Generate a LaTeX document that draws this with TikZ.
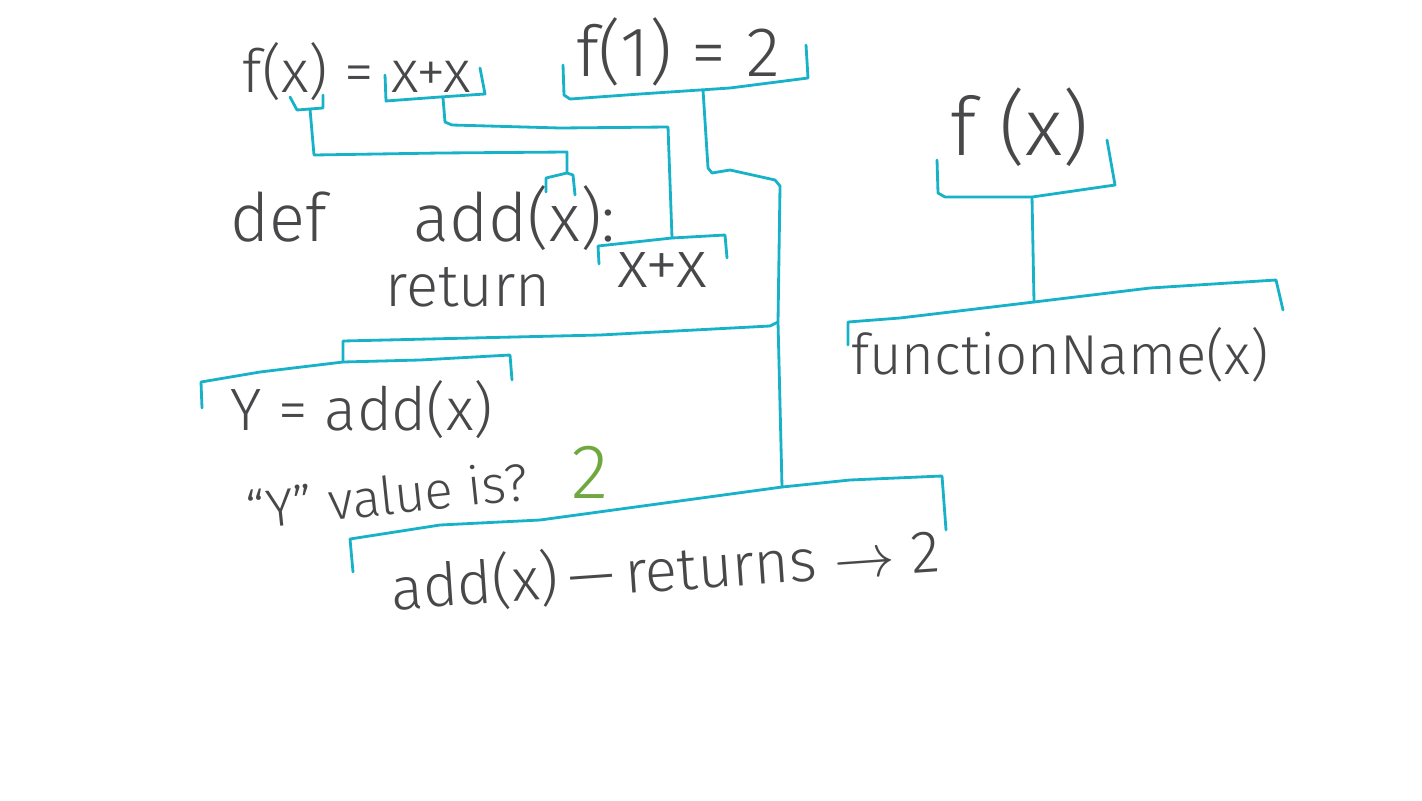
\documentclass[tikz,border=0pt]{standalone}
\usepackage{fontspec}
\setmainfont{Fira Sans Light}
\definecolor{pen}{RGB}{72,72,74}
\definecolor{tealpen}{RGB}{24,178,200}
\definecolor{greenpen}{RGB}{112,168,64}
\tikzset{
  bracket/.style={color=tealpen,line width=0.8pt,line join=round,line cap=round},
  hand/.style={color=pen,inner sep=0pt},
}
\newcommand{\fs}[1]{\fontsize{#1}{#1}\selectfont}

\begin{document}
\begin{tikzpicture}[x=0.01cm,y=-0.01cm]
\useasboundingbox (0,0) rectangle (1422,800);

\node[hand,font=\fs{17}] (fx) at (357,72) {f(x) = x+x};
\node[hand,font=\fs{20}] (fone) at (678,52) {f(1) = 2};
\node[hand,font=\fs{23}] (fxr) at (1020,127) {f (x)};
\node[hand,font=\fs{19}] (def) at (423,218) {def\hspace{1.3em}add(x):};
\node[hand,font=\fs{17}] (ret) at (468,287) {return};
\node[hand,font=\fs{19}] (retx) at (662,270) {x+x};
\node[hand,font=\fs{17}] (yadd) at (362,410) {Y = add(x)};
\node[hand,font=\fs{15},rotate=6] (yval) at (387,495) {``Y'' value is?};
\node[hand,font=\fs{22},color=greenpen] (two) at (590,472) {2};
\node[hand,font=\fs{17},rotate=4] (addret) at (665,570) {add(x)\,---\,returns $\rightarrow$ 2};
\node[hand,font=\fs{16}] (fname) at (1060,355) {functionName(x)};

\coordinate (fxstem) at (310,109);
\coordinate (argx) at (567,173);
\coordinate (sumstem) at (443,98);
\coordinate (retstem) at (672,238);
\coordinate (fonestem) at (703,90);
\coordinate (trunk) at (778,322);
\coordinate (ystem) at (343,362);
\coordinate (addstem) at (782,487);
\coordinate (fxrstem) at (1032,197);
\coordinate (fnamestem) at (1034,302);

\draw[bracket] (290,97) -- (297,110) -- (323,108) -- (323,95);
\draw[bracket] (fxstem) -- (314,155) -- (440,153) -- (567,152) -- (argx);
\draw[bracket] (546,192) -- (546,178) -- (argx) -- (573,175) -- (575,195);

\draw[bracket] (385,75) -- (386,101) -- (440,97) -- (485,94) -- (480,68);
\draw[bracket] (sumstem) -- (445,122) -- (452,125) -- (560,128) -- (668,127) -- (retstem);
\draw[bracket] (599,264) -- (598,246) -- (retstem) -- (725,235) -- (727,258);

\draw[bracket] (563,65) -- (564,95) -- (570,99) -- (640,94) -- (730,88) -- (808,78) -- (806,45);
\draw[bracket] (fonestem) -- (708,168) -- (712,173) -- (730,170) -- (775,180) -- (780,186) -- (trunk) -- (addstem);
\draw[bracket] (trunk) -- (770,326) -- (600,335) -- (343,341) -- (ystem);
\draw[bracket] (202,408) -- (201,382) -- (260,372) -- (ystem) -- (420,360) -- (510,355) -- (512,380);
\draw[bracket] (353,572) -- (350,539) -- (440,525) -- (540,520) -- (650,505) -- (addstem) -- (850,480) -- (942,476) -- (946,530);

\draw[bracket] (937,160) -- (938,193) -- (945,197) -- (fxrstem) -- (1115,185) -- (1107,140);
\draw[bracket] (fxrstem) -- (fnamestem);
\draw[bracket] (848,345) -- (848,322) -- (900,318) -- (fnamestem) -- (1150,288) -- (1276,280) -- (1283,310);

\end{tikzpicture}
\end{document}
